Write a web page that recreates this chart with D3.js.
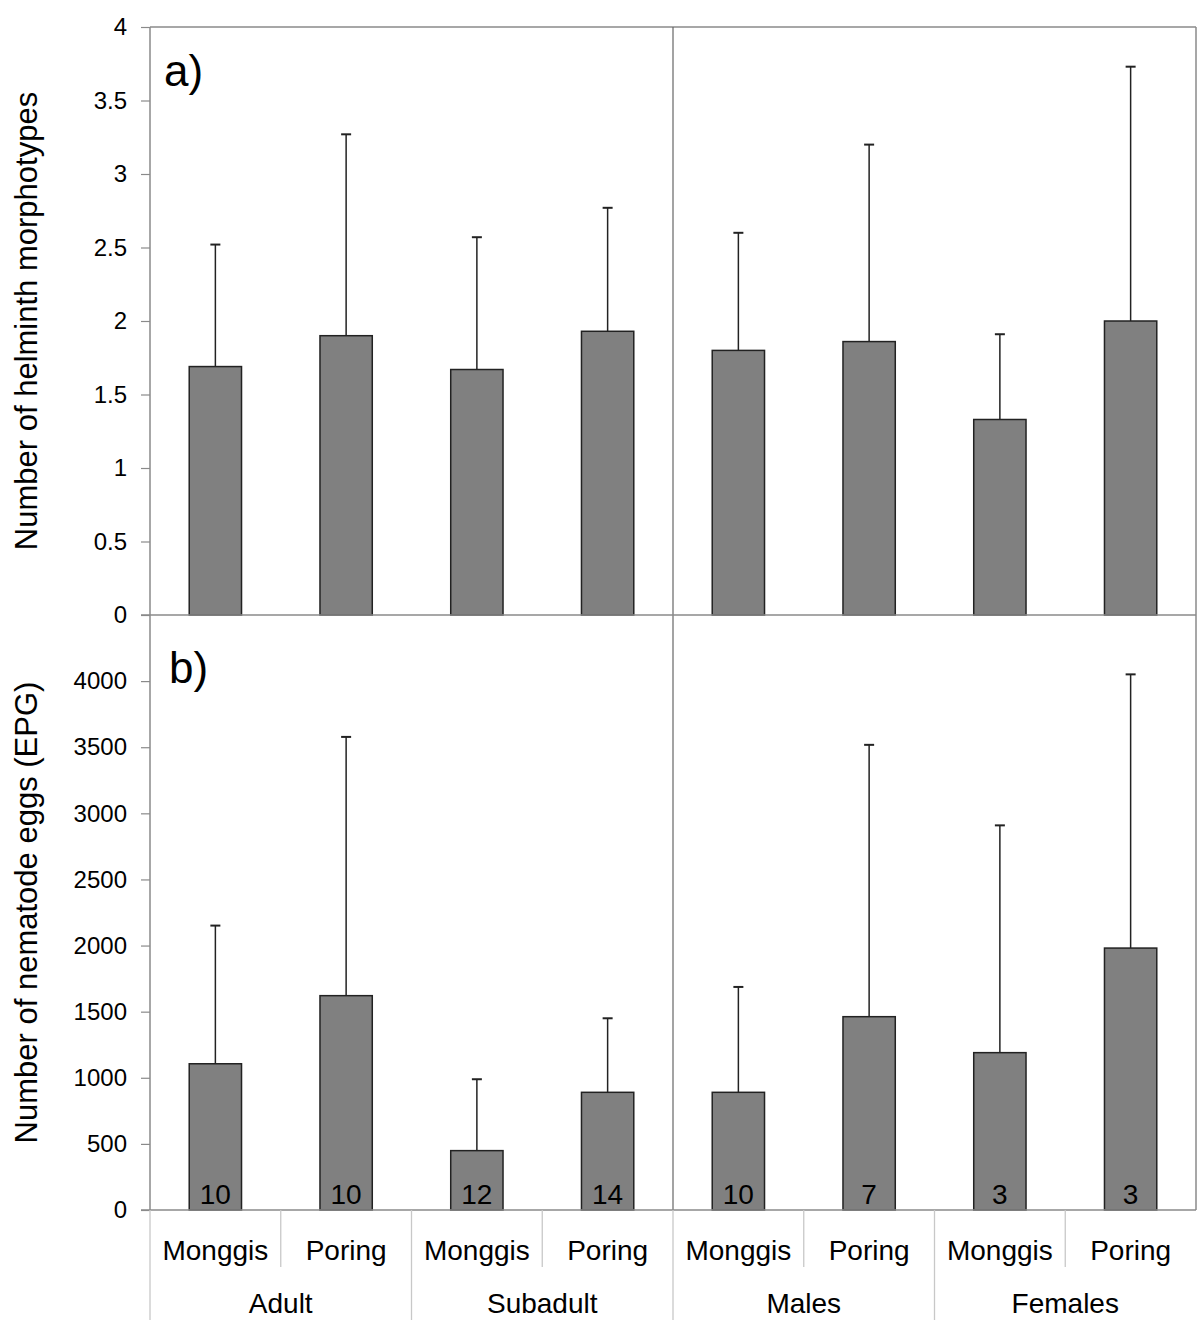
<!DOCTYPE html>
<html>
<head>
<meta charset="utf-8">
<script src="https://cdn.jsdelivr.net/npm/d3@7"></script>
<style>
  body { margin: 0; background: #fff; }
  svg text { font-family: "Liberation Sans", Arial, sans-serif; fill: #000; }
</style>
</head>
<body>
<div id="chart-area"></div>
<script>
// data
var species = ['Monggis', 'Poring', 'Monggis', 'Poring', 'Monggis', 'Poring', 'Monggis', 'Poring'];
var groups = ['Adult', 'Subadult', 'Males', 'Females'];
var morphMean = [1.69, 1.90, 1.67, 1.93, 1.80, 1.86, 1.33, 2.00];
var morphUpper = [2.52, 3.27, 2.57, 2.77, 2.60, 3.20, 1.91, 3.73];
var eggMean = [1106, 1621, 449, 890, 890, 1462, 1190, 1981];
var eggUpper = [2151, 3578, 989, 1450, 1687, 3518, 2909, 4051];
var sampleN = [10, 10, 12, 14, 10, 7, 3, 3];
var morphTicks = [0, 0.5, 1, 1.5, 2, 2.5, 3, 3.5, 4];
var eggTicks = [0, 500, 1000, 1500, 2000, 2500, 3000, 3500, 4000];

var W = 1200, H = 1332;
var left = 150, right = 1196;
var topA = 27, baseA = 615, baseB = 1210;

var svg = d3.select('#chart-area')
  .append('svg')
  .attr('width', W)
  .attr('height', H);

var idx = d3.range(species.length);

var x = d3.scaleBand()
  .domain(idx)
  .range([left, right])
  .paddingInner(0.6)
  .paddingOuter(0.3);

var xFull = d3.scaleBand()
  .domain(idx)
  .range([left, right]);

var yA = d3.scaleLinear().domain([0, 4]).range([baseA, topA]);
var yB = d3.scaleLinear().domain([0, 4500]).range([baseB, baseA]);

// frame lines
var axisColor = '#8a8a8a';
svg.append('line')
  .attr('x1', left).attr('x2', right).attr('y1', topA).attr('y2', topA)
  .attr('stroke', axisColor).attr('stroke-width', 1.5);
svg.append('line')
  .attr('x1', right).attr('x2', right).attr('y1', topA).attr('y2', baseB)
  .attr('stroke', axisColor).attr('stroke-width', 1.5);
svg.append('line')
  .attr('x1', xFull(4)).attr('x2', xFull(4)).attr('y1', topA).attr('y2', baseB)
  .attr('stroke', '#666').attr('stroke-width', 1.2);

function drawPanel(y, ticks, mean, upper, fmt) {
  var yAxis = d3.axisLeft(y)
    .tickValues(ticks)
    .tickSize(9)
    .tickPadding(14)
    .tickFormat(fmt);
  var ax = svg.append('g')
    .attr('transform', 'translate(' + left + ',0)')
    .call(yAxis);
  ax.select('.domain').remove();
  ax.selectAll('.tick line').attr('stroke', axisColor).attr('stroke-width', 1.2);
  ax.selectAll('.tick text').attr('font-size', '24px').attr('fill', '#000');
  svg.append('line')
    .attr('x1', left).attr('x2', left)
    .attr('y1', y.range()[1]).attr('y2', y.range()[0])
    .attr('stroke', axisColor).attr('stroke-width', 1.5);

  // error bars
  var err = svg.append('g');
  idx.forEach(function (i) {
    var cx = x(i) + x.bandwidth() / 2;
    err.append('line')
      .attr('x1', cx).attr('x2', cx)
      .attr('y1', y(mean[i])).attr('y2', y(upper[i]))
      .attr('stroke', '#222').attr('stroke-width', 1.5);
    err.append('line')
      .attr('x1', cx - 5).attr('x2', cx + 5)
      .attr('y1', y(upper[i])).attr('y2', y(upper[i]))
      .attr('stroke', '#222').attr('stroke-width', 2);
  });

  // bars
  svg.append('g')
    .selectAll('rect')
    .data(idx)
    .enter()
    .append('rect')
    .attr('x', function (i) { return x(i); })
    .attr('y', function (i) { return y(mean[i]); })
    .attr('width', x.bandwidth())
    .attr('height', function (i) { return y(0) - y(mean[i]); })
    .attr('fill', '#808080')
    .attr('stroke', '#222')
    .attr('stroke-width', 1.5);

  // baseline
  svg.append('line')
    .attr('x1', left - 9).attr('x2', right)
    .attr('y1', y(0)).attr('y2', y(0))
    .attr('stroke', axisColor).attr('stroke-width', 1.5);
}

drawPanel(yA, morphTicks, morphMean, morphUpper, function (d) { return d; });
drawPanel(yB, eggTicks, eggMean, eggUpper, function (d) { return d; });

// sample sizes inside bars
svg.append('g')
  .selectAll('text')
  .data(idx)
  .enter()
  .append('text')
  .attr('x', function (i) { return x(i) + x.bandwidth() / 2; })
  .attr('y', baseB - 6)
  .attr('text-anchor', 'middle')
  .attr('font-size', '28px')
  .text(function (i) { return sampleN[i]; });

// panel letters
svg.append('text').attr('x', 164).attr('y', 86).attr('font-size', '44px').text('a)');
svg.append('text').attr('x', 169).attr('y', 683).attr('font-size', '44px').text('b)');

// y axis titles
svg.append('text')
  .attr('transform', 'translate(37,' + (topA + baseA) / 2 + ') rotate(-90)')
  .attr('text-anchor', 'middle')
  .attr('font-size', '31px')
  .text('Number of helminth morphotypes');
svg.append('text')
  .attr('transform', 'translate(37,' + (baseA + baseB) / 2 + ') rotate(-90)')
  .attr('text-anchor', 'middle')
  .attr('font-size', '31px')
  .text('Number of nematode eggs (EPG)');

// category axis
var catColor = '#c8c8c8';
var cat = svg.append('g');
idx.forEach(function (i) {
  var x0 = xFull(i);
  var isGroup = i % 2 === 0;
  cat.append('line')
    .attr('x1', x0).attr('x2', x0)
    .attr('y1', baseB).attr('y2', isGroup ? 1320 : 1267)
    .attr('stroke', catColor).attr('stroke-width', 1.3);
  cat.append('text')
    .attr('x', x0 + xFull.bandwidth() / 2)
    .attr('y', 1260)
    .attr('text-anchor', 'middle')
    .attr('font-size', '28px')
    .text(species[i]);
});
groups.forEach(function (g, j) {
  cat.append('text')
    .attr('x', xFull(j * 2) + xFull.bandwidth())
    .attr('y', 1313)
    .attr('text-anchor', 'middle')
    .attr('font-size', '28px')
    .text(g);
});
</script>
</body>
</html>
